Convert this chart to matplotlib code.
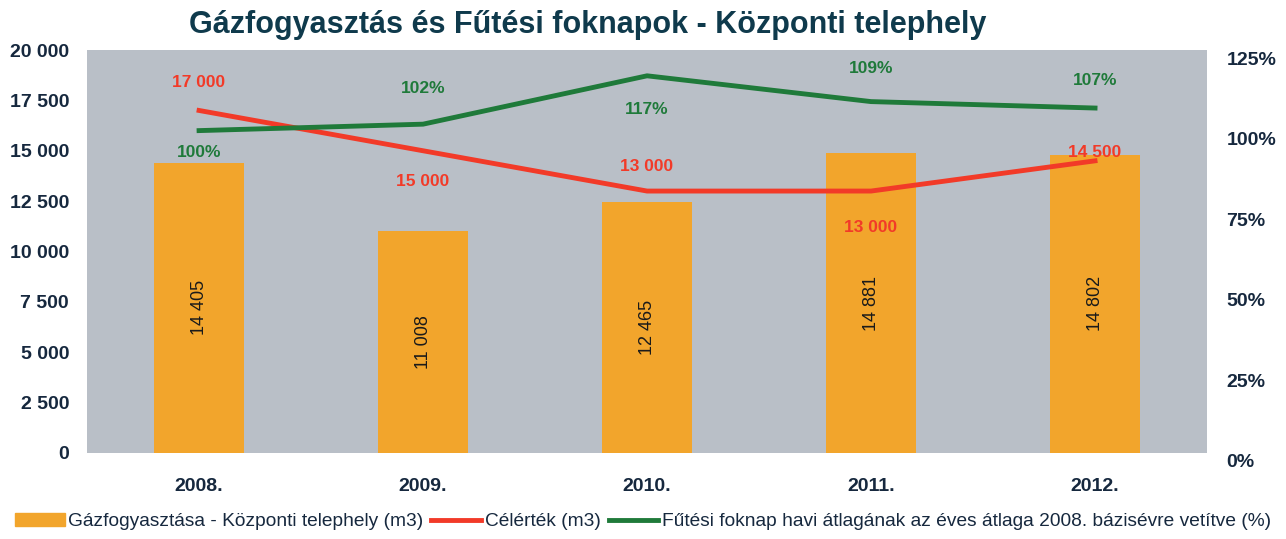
import matplotlib.pyplot as plt
from matplotlib.patches import Patch
from matplotlib.lines import Line2D
from matplotlib.transforms import ScaledTranslation

years = ["2008.", "2009.", "2010.", "2011.", "2012."]
fogyasztas = [14405, 11008, 12465, 14881, 14802]
celertek = [17000, 15000, 13000, 13000, 14500]
foknap = [100, 102, 117, 109, 107]

left_ticks = [0, 2500, 5000, 7500, 10000, 12500, 15000, 17500, 20000]
right_ticks = [0, 25, 50, 75, 100, 125]

def hu(v):
    return f"{v:,}".replace(",", " ")

plt.rcParams['font.family'] = ['Liberation Sans', 'DejaVu Sans']

navy = "#16283e"
orange = "#f2a52c"
red = "#f23a28"
green = "#1f7a3a"

fig = plt.figure(figsize=(12.86, 5.39), dpi=100)
ax = fig.add_axes([0.0677, 0.1596, 0.8709, 0.7476])
ax.set_facecolor("#b9bfc7")
x = range(len(years))

ax.bar(x, fogyasztas, width=0.4, color=orange, zorder=2)
for i, v in enumerate(fogyasztas):
    ax.text(i, v / 2, hu(v), rotation=90, ha="center", va="center",
            fontsize=13, color="#1a1a1a")

ax.plot(x, celertek, color=red, lw=3.5, zorder=3)
red_off = [(0, 20), (0, -22), (0, 18), (0, -26), (0, 6)]
for i, v in enumerate(celertek):
    ax.annotate(hu(v), (i, v), xytext=red_off[i], textcoords="offset points",
                ha="center", va="center", color=red, fontsize=12.5, fontweight="bold")

ax.set_xlim(-0.5, 4.5)
ax.set_ylim(0, 20000)
ax.set_yticks(left_ticks)
ax.set_yticklabels([hu(t) for t in left_ticks], fontsize=14, fontweight="bold", color=navy)
ax.set_xticks(list(x))
ax.set_xticklabels(years, fontsize=14, fontweight="bold", color=navy)
ax.tick_params(axis="x", length=0, pad=18)
ax.tick_params(axis="y", length=0, pad=13)
for s in ax.spines.values():
    s.set_visible(False)

ax2 = ax.twinx()
ax2.plot(x, foknap, color=green, lw=3.5, zorder=3)
green_off = [(0, -16), (0, 26), (0, -24), (0, 24), (0, 20)]
for i, v in enumerate(foknap):
    ax2.annotate(f"{v}%", (i, v), xytext=green_off[i], textcoords="offset points",
                 ha="center", va="center", color=green, fontsize=12.5, fontweight="bold")
ax2.set_ylim(0, 125)
ax2.set_yticks(right_ticks)
ax2.set_yticklabels([f"{t}%" for t in right_ticks], fontsize=14, fontweight="bold", color=navy)
ax2.tick_params(length=0, pad=14)
shift = ScaledTranslation(0, -0.08, fig.dpi_scale_trans)
for lab in ax2.get_yticklabels():
    lab.set_transform(lab.get_transform() + shift)
for s in ax2.spines.values():
    s.set_visible(False)

fig.text(0.457, 0.953, "Gázfogyasztás és Fűtési foknapok - Központi telephely",
         ha="center", va="center", fontsize=22, fontweight="bold", color="#0f3a4c")

handles = [Patch(color=orange),
           Line2D([], [], color=red, lw=3.5),
           Line2D([], [], color=green, lw=3.5)]
labels = ["Gázfogyasztása - Központi telephely (m3)", "Célérték (m3)",
          "Fűtési foknap havi átlagának az éves átlaga 2008. bázisévre vetítve (%)"]
fig.legend(handles, labels, loc="center", bbox_to_anchor=(0.5, 0.032), ncol=3,
           frameon=False, fontsize=13.8, handlelength=2.6, handletextpad=0.2,
           columnspacing=0.4, labelcolor=navy)

fig.savefig("out.png", dpi=100)
